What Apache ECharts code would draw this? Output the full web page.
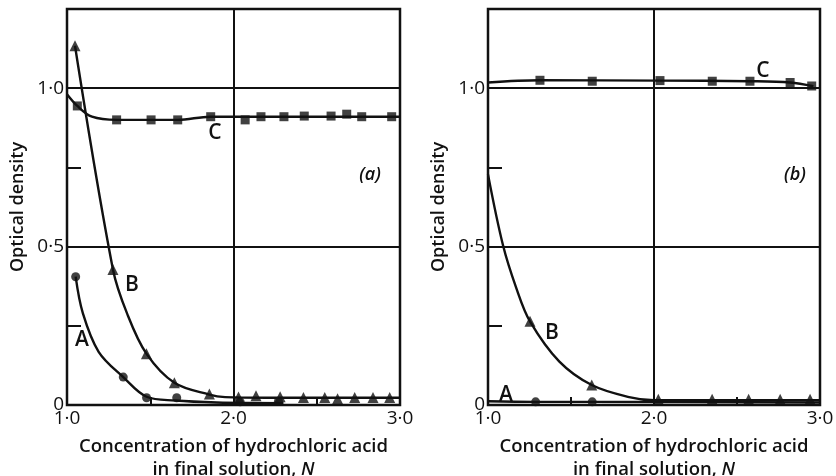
<!DOCTYPE html>
<html>
<head>
<meta charset="utf-8">
<script src="https://cdn.jsdelivr.net/npm/echarts@6/dist/echarts.min.js"></script>
<style>
  html, body { margin: 0; background: #fff; }
  #chart { width: 836px; height: 476px; }
</style>
</head>
<body>
<div id="chart"></div>
<script>
// tick labels
var xTickLabels = { 1: '1·0', 2: '2·0', 3: '3·0' };
var yTickLabels = { 0: '0', 0.5: '0·5', 1: '1·0' };

// panel (a): measured points (markers) and traced curve
var aPtsA = [[1.052, 0.405], [1.338, 0.088], [1.478, 0.023], [1.659, 0.023], [2.04, 0.01], [2.27, 0.012]];
var aLineA = [[1.052, 0.405], [1.095, 0.29], [1.19, 0.168], [1.338, 0.088], [1.478, 0.026], [1.65, 0.014], [1.9, 0.008], [2.3, 0.006]];
var aPtsB = [[1.048, 1.134], [1.276, 0.428], [1.477, 0.162], [1.645, 0.07], [1.855, 0.035], [2.03, 0.025], [2.135, 0.029],
  [2.28, 0.026], [2.42, 0.024], [2.548, 0.024], [2.625, 0.02], [2.728, 0.024], [2.838, 0.024], [2.938, 0.024]];
var aLineB = [[1.048, 1.134], [1.276, 0.428], [1.36, 0.29], [1.477, 0.162], [1.645, 0.07], [1.855, 0.033], [1.95, 0.025], [2.2, 0.023], [3.0, 0.023]];
var aPtsC = [[1.062, 0.944], [1.298, 0.90], [1.505, 0.90], [1.665, 0.90], [1.863, 0.91], [2.07, 0.90], [2.165, 0.91],
  [2.303, 0.91], [2.425, 0.912], [2.586, 0.912], [2.68, 0.918], [2.77, 0.91], [2.95, 0.91]];
var aLineC = [[1.0, 0.981], [1.062, 0.944], [1.15, 0.91], [1.3, 0.90], [1.665, 0.90], [1.86, 0.91], [2.2, 0.91], [3.0, 0.91]];

// panel (b)
var bPtsA = [[1.287, 0.01], [1.628, 0.01]];
var bLineA = [[1.0, 0.012], [1.287, 0.01], [1.628, 0.01], [3.0, 0.008]];
var bPtsB = [[1.253, 0.264], [1.625, 0.063], [2.026, 0.018], [2.35, 0.018], [2.57, 0.018], [2.76, 0.018], [2.94, 0.018]];
var bLineB = [[1.0, 0.728], [1.09, 0.505], [1.17, 0.37], [1.253, 0.264], [1.43, 0.137], [1.625, 0.063], [1.85, 0.025], [2.0, 0.015], [3.0, 0.015]];
var bPtsC = [[1.313, 1.025], [1.628, 1.022], [2.036, 1.024], [2.351, 1.022], [2.578, 1.022], [2.82, 1.018], [2.95, 1.007]];
var bLineC = [[1.0, 1.018], [1.313, 1.025], [2.036, 1.024], [2.578, 1.022], [2.82, 1.018], [2.96, 1.006]];

var INK = '#111';
var FONT = 'Open Sans';

var chart = echarts.init(document.getElementById('chart'));

function mainX(g) {
  return {
    type: 'value', gridIndex: g, min: 1, max: 3, interval: 1,
    name: '{t|Concentration of hydrochloric acid}\n{t|in final solution, }{i|N}',
    nameLocation: 'middle', nameGap: 30,
    nameTextStyle: {
      rich: {
        t: { fontFamily: FONT, fontSize: 18.5, fontWeight: 600, color: INK, lineHeight: 23 },
        i: { fontFamily: FONT, fontSize: 18.5, fontWeight: 600, fontStyle: 'italic', color: INK, lineHeight: 23 }
      }
    },
    axisLine: { show: false },
    axisTick: { show: false },
    axisLabel: {
      margin: 4, fontFamily: FONT, fontSize: 19, color: INK,
      formatter: function (v) { return xTickLabels[v] || ''; }
    },
    splitLine: { show: true, lineStyle: { color: INK, width: 2 } }
  };
}
function minorX(g) {
  return {
    type: 'value', gridIndex: g, min: 1, max: 3, interval: 0.5, position: 'bottom',
    axisLine: { show: false }, axisLabel: { show: false }, splitLine: { show: false },
    axisTick: { show: true, inside: true, length: 8, lineStyle: { color: INK, width: 2 } }
  };
}
function mainY(g) {
  return {
    type: 'value', gridIndex: g, min: 0, max: 1.25, interval: 0.5,
    name: 'Optical density', nameLocation: 'middle', nameGap: 40,
    nameTextStyle: { fontFamily: FONT, fontSize: 18, fontWeight: 600, color: INK },
    axisLine: { show: false },
    axisTick: { show: false },
    axisLabel: {
      margin: 3, fontFamily: FONT, fontSize: 19, color: INK, showMaxLabel: false,
      formatter: function (v) { return yTickLabels[v] !== undefined ? yTickLabels[v] : ''; }
    },
    splitLine: { show: true, lineStyle: { color: INK, width: 2 } }
  };
}
function minorY(g) {
  return {
    type: 'value', gridIndex: g, min: 0, max: 1.25, interval: 0.25, position: 'left',
    axisLine: { show: false }, axisLabel: { show: false }, splitLine: { show: false },
    axisTick: { show: true, inside: true, length: 14, lineStyle: { color: INK, width: 2 } }
  };
}

function curve(axis, data) {
  return {
    type: 'line', xAxisIndex: axis, yAxisIndex: axis, data: data,
    smooth: 0.35, showSymbol: false, silent: true,
    lineStyle: { color: INK, width: 2.4 }
  };
}
function marks(axis, data, symbol, size) {
  return {
    type: 'scatter', xAxisIndex: axis, yAxisIndex: axis, data: data,
    symbol: symbol, symbolSize: size, silent: true,
    itemStyle: { color: INK }
  };
}

function txt(x, y, s, size, italic) {
  return {
    type: 'text', x: x, y: y,
    style: {
      text: s, fill: INK, font: (italic ? 'italic ' : '') + '600 ' + size + 'px "' + FONT + '"',
      align: 'center', verticalAlign: 'middle'
    }
  };
}

chart.setOption({
  animation: false,
  backgroundColor: '#fff',
  grid: [
    { left: 67, top: 9, width: 333, height: 396, outerBoundsMode: 'none', show: true, borderColor: INK, borderWidth: 2.5, backgroundColor: 'transparent' },
    { left: 488, top: 9, width: 332, height: 396, outerBoundsMode: 'none', show: true, borderColor: INK, borderWidth: 2.5, backgroundColor: 'transparent' }
  ],
  // axes 0/1: main (panel a, panel b); axes 2/3: minor ticks
  xAxis: [mainX(0), mainX(1), minorX(0), minorX(1)],
  yAxis: [mainY(0), mainY(1), minorY(0), minorY(1)],
  series: [
    curve(0, aLineA), marks(0, aPtsA, 'circle', 9),
    curve(0, aLineB), marks(0, aPtsB, 'triangle', 11),
    curve(0, aLineC), marks(0, aPtsC, 'rect', 9),
    curve(1, bLineA), marks(1, bPtsA, 'circle', 9),
    curve(1, bLineB), marks(1, bPtsB, 'triangle', 11),
    curve(1, bLineC), marks(1, bPtsC, 'rect', 9)
  ],
  graphic: [
    txt(215, 133, 'C', 21), txt(132, 285, 'B', 21), txt(82, 340, 'A', 21), txt(370, 175, '(a)', 18, true),
    txt(763, 71, 'C', 21), txt(552, 333, 'B', 21), txt(506, 395, 'A', 21), txt(795, 175, '(b)', 18, true)
  ]
});
</script>
</body>
</html>
